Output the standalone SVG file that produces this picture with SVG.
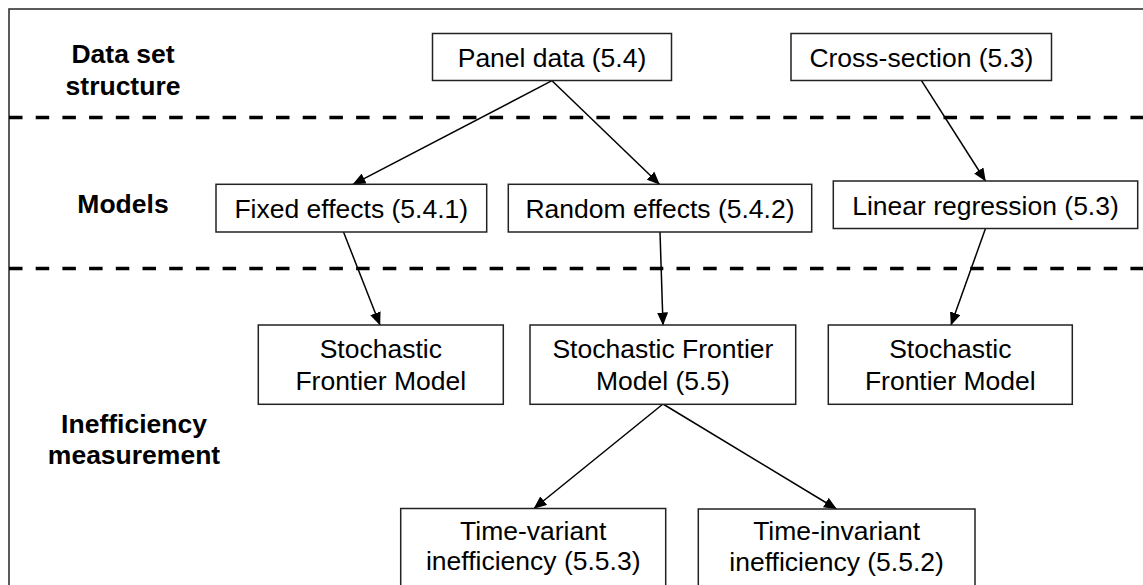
<svg xmlns="http://www.w3.org/2000/svg" width="1143" height="585" viewBox="0 0 1143 585">
<style>
.frame{fill:none;stroke:#333;stroke-width:1.6}
.dash{stroke:#000;stroke-width:3.5;stroke-dasharray:13.5 13.2;fill:none}
.box{fill:#fff;stroke:#222;stroke-width:1.5}
.t{font-family:"Liberation Sans",Arial,sans-serif;font-size:26.5px;fill:#000;text-anchor:middle}
.lbl{font-family:"Liberation Sans",Arial,sans-serif;font-size:26.5px;font-weight:bold;fill:#000;text-anchor:middle}
.arr{stroke:#000;stroke-width:1.5;fill:none;marker-end:url(#ah)}
</style>
<defs>
<marker id="ah" markerUnits="userSpaceOnUse" markerWidth="13" markerHeight="11" refX="12.5" refY="5.5" orient="auto">
<path d="M0,0 L13,5.5 L0,11 z" fill="#000"/>
</marker>
</defs>
<rect width="1143" height="585" fill="#fff"/>
<rect class="frame" x="9" y="9" width="1200" height="700"/>
<g id="separators">
<line class="dash" x1="9" y1="117.5" x2="1143" y2="117.5"/>
<line class="dash" x1="9" y1="268.5" x2="1143" y2="268.5"/>
</g>
<g id="row-labels">
<text class="lbl" x="123" y="63">Data set</text>
<text class="lbl" x="123" y="94.5">structure</text>
<text class="lbl" x="123" y="212.5">Models</text>
<text class="lbl" x="134" y="432.5">Inefficiency</text>
<text class="lbl" x="134" y="463.5">measurement</text>
</g>
<g id="connectors">
<line class="arr" x1="552" y1="80.7" x2="353" y2="184.3"/>
<line class="arr" x1="552" y1="80.7" x2="659.5" y2="184.3"/>
<line class="arr" x1="921.5" y1="80.7" x2="985.5" y2="181"/>
<line class="arr" x1="343.5" y1="232" x2="380" y2="325"/>
<line class="arr" x1="660" y1="232" x2="663" y2="325"/>
<line class="arr" x1="985.5" y1="228.5" x2="951" y2="325"/>
<line class="arr" x1="663" y1="404" x2="534" y2="508.5"/>
<line class="arr" x1="663" y1="404" x2="836.5" y2="509"/>
</g>
<g id="panel-data">
<rect class="box" x="432.5" y="33.5" width="239" height="47"/>
<text class="t" x="552" y="66.5">Panel data (5.4)</text>
</g>
<g id="cross-section">
<rect class="box" x="791" y="33.5" width="260.5" height="47"/>
<text class="t" x="921.3" y="66.5">Cross-section (5.3)</text>
</g>
<g id="fixed-effects">
<rect class="box" x="216" y="184.3" width="270.7" height="47.7"/>
<text class="t" x="351.3" y="218.3">Fixed effects (5.4.1)</text>
</g>
<g id="random-effects">
<rect class="box" x="508.3" y="184.3" width="303.4" height="47.7"/>
<text class="t" x="660" y="218.3">Random effects (5.4.2)</text>
</g>
<g id="linear-regression">
<rect class="box" x="833.3" y="181" width="304.4" height="47.5"/>
<text class="t" x="985.5" y="215">Linear regression (5.3)</text>
</g>
<g id="sfm-fixed">
<rect class="box" x="258.3" y="325" width="245" height="79.3"/>
<text class="t" x="380.8" y="358.3">Stochastic</text>
<text class="t" x="380.8" y="390">Frontier Model</text>
</g>
<g id="sfm-random">
<rect class="box" x="530" y="325" width="265.7" height="79.3"/>
<text class="t" x="662.9" y="358.3">Stochastic Frontier</text>
<text class="t" x="662.9" y="390">Model (5.5)</text>
</g>
<g id="sfm-cross">
<rect class="box" x="828.3" y="325" width="244" height="79.3"/>
<text class="t" x="950.3" y="358.3">Stochastic</text>
<text class="t" x="950.3" y="390">Frontier Model</text>
</g>
<g id="time-variant">
<rect class="box" x="400.7" y="508.5" width="265" height="100"/>
<text class="t" x="533.2" y="539.5">Time-variant</text>
<text class="t" x="533.2" y="570">inefficiency (5.5.3)</text>
</g>
<g id="time-invariant">
<rect class="box" x="698.3" y="509" width="276.7" height="100"/>
<text class="t" x="836.6" y="540">Time-invariant</text>
<text class="t" x="836.6" y="570.5">inefficiency (5.5.2)</text>
</g>
</svg>
